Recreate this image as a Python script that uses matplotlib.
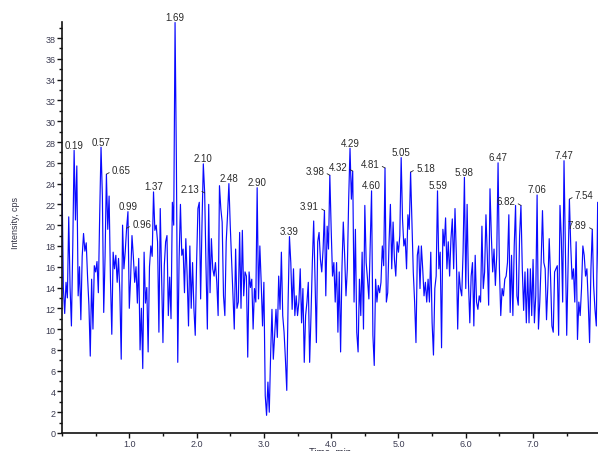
import numpy as np
import matplotlib
matplotlib.use("Agg")
import matplotlib.pyplot as plt
from matplotlib.ticker import MultipleLocator, FormatStrFormatter

# ---- data ----
sample_step_min = 0.02
intensity = [
    24.5, 14, 11.5, 14.5, 13, 20.8, 14, 10.3, 18, 27.2,
    20.5, 25.7, 13.2, 16, 10.9, 17, 19.2, 17.5, 18.3, 15,
    12.3, 7.4, 14.8, 10, 16.1, 15.5, 16.5, 13.5, 21, 27.5,
    22.8, 11.6, 17, 24.9, 19.6, 22.8, 14.8, 9.5, 17.4, 15.8,
    17.1, 14.5, 16.8, 13.5, 7.1, 20, 15.8, 17.5, 19.7, 21.3,
    12, 15, 19, 17, 14.5, 16, 12.5, 16.8, 8, 12,
    6.2, 17.4, 12.5, 14, 7.8, 16, 18, 17, 23.2, 19.5,
    20, 18.4, 9.7, 21.6, 15, 8.7, 16.1, 18.4, 19, 11.3,
    15, 11, 22.2, 20, 39.5, 26, 6.8, 16.7, 22, 17.1,
    17.7, 13.5, 18.7, 15.1, 10.3, 18, 12, 16.4, 12, 9.4,
    16.4, 21.6, 22.2, 12.9, 20, 25.9, 23.1, 16, 10, 22,
    13.5, 18.7, 15.8, 15.1, 16.4, 14.5, 11.3, 23.8, 21.6, 20.3,
    13.2, 11.3, 18.4, 21, 24, 20, 16.7, 13.5, 10, 17.7,
    12, 12.6, 19.3, 12, 19.5, 13.2, 15.5, 15.1, 7.3, 15.5,
    14, 14.8, 10, 13.9, 12.6, 23.6, 12.9, 18, 14.5, 10.3,
    14.5, 3.6, 1.7, 4.9, 2.0, 7.5, 11.9, 7.1, 9.4, 11.9,
    9.2, 15.1, 11.9, 17.4, 11.3, 9.7, 7.1, 4.1, 12.6, 18.9,
    16.4, 11.9, 15.8, 11.3, 13.2, 11.3, 12.6, 15.8, 10.6, 13.9,
    6.8, 11.3, 12.6, 14.5, 6.8, 11.3, 16.4, 20.4, 14.8, 8.7,
    18.4, 19.3, 16.7, 15.5, 17.7, 21.4, 13.2, 19.9, 17.7, 24.8,
    19.6, 15.1, 16.4, 12.6, 16.4, 9.7, 15.5, 7.8, 15.8, 20.3,
    17.1, 13.2, 15.8, 22.5, 27.4, 22.5, 25.2, 12.6, 19.6, 9.7,
    7.8, 14.8, 11.3, 17.4, 10, 21.9, 16.4, 14.8, 12.9, 18,
    23.3, 9.4, 6.5, 14.8, 12.6, 14.2, 13.5, 14.5, 18, 16.1,
    25.5, 12.6, 13.5, 18.4, 22, 15.8, 20.3, 16.7, 15.1, 18.4,
    17.4, 19, 26.5, 20.6, 18, 18.7, 15.8, 21, 19.6, 25.1,
    20.3, 15.5, 12.6, 8.7, 17.1, 18, 13.9, 18, 15.8, 13.2,
    14.5, 12.6, 14.8, 12.6, 17.4, 10.6, 7.5, 13.9, 15.1, 23.3,
    15.8, 17.4, 8.2, 19.6, 18, 20.7, 15.8, 18.4, 15.1, 18.7,
    20.6, 15.8, 21.6, 17.1, 10, 15.5, 13.9, 13.2, 17.4, 24.6,
    13.9, 22, 14.5, 10.6, 15.1, 16.4, 10.3, 17.1, 12.6, 11.9,
    13.2, 12.6, 19.9, 13.9, 15.5, 21, 17.1, 12.3, 23.5, 19,
    15.5, 17.7, 14.2, 17.1, 26, 15.8, 11.3, 13.9, 13.2, 14.8,
    15.1, 16.4, 21, 11.6, 17.1, 11.3, 18, 21.9, 13.2, 12.3,
    19, 21.9, 15.8, 11.8, 15.5, 10.6, 15.8, 10.6, 15.8, 11.3,
    16.7, 10.6, 13.2, 22.9, 10, 12.6, 16.4, 21.4, 16.4, 15.8,
    10.9, 14.2, 18.7, 15, 10.3, 9.7, 15.5, 15.8, 16.1, 9.4,
    21.9, 18.7, 12.6, 26.2, 18, 9.4, 16, 22.5, 18, 14.8,
    15.8, 12.6, 18.4, 9, 12.6, 11.3, 13.9, 18, 17.1, 15.1,
    15.8, 12.6, 8.7, 15.8, 19.6, 14.2, 11.9, 10.3, 22.2, 12,
]
time_min = np.arange(len(intensity)) * sample_step_min

peak_labels = ["0.19", "0.57", "0.65", "0.99", "0.96", "1.37", "1.69",
               "2.10", "2.13", "2.48", "2.90", "3.39", "3.91", "3.98",
               "4.29", "4.32", "4.60", "4.81", "5.05", "5.18", "5.59",
               "5.98", "6.47", "6.82", "7.06", "7.47", "7.54", "7.89"]
peak_at = [0.18, 0.58, 0.66, 0.98, 0.96, 1.36, 1.68,
           2.10, 2.12, 2.48, 2.90, 3.38, 3.90, 3.98,
           4.28, 4.32, 4.60, 4.80, 5.04, 5.18, 5.58,
           5.98, 6.48, 6.82, 7.06, 7.46, 7.54, 7.88]

y_ticks = list(range(0, 40, 2))
x_ticks = [1.0, 2.0, 3.0, 4.0, 5.0, 6.0, 7.0]

# ---- layout / style ----
left_side = {"2.13", "3.91", "3.98", "4.32", "4.81", "6.82", "7.89"}
right_side = {"0.65", "0.96", "5.18", "7.54"}

plt.rcParams['font.family'] = ['Liberation Sans', 'DejaVu Sans']
fig = plt.figure(figsize=(5.98, 4.52), dpi=100)
ax = fig.add_axes([62 / 598, 18 / 452, 536 / 598, 411 / 452])

ax.plot(time_min, intensity, color='#0a0aff', lw=0.85)

ax.set_xlim(0, 7.965)
ax.set_ylim(0, 39.55)
ax.spines['top'].set_visible(False)
ax.spines['right'].set_visible(False)
for s in ('left', 'bottom'):
    ax.spines[s].set_linewidth(1.2)
    ax.spines[s].set_color('#111111')

ax.set_yticks(y_ticks)
ax.yaxis.set_minor_locator(MultipleLocator(1))
ax.set_xticks(x_ticks)
ax.xaxis.set_major_formatter(FormatStrFormatter('%.1f'))
ax.xaxis.set_minor_locator(MultipleLocator(0.5))
ax.tick_params(axis='both', which='major', length=3.5, width=1, pad=1,
               labelsize=6.5, labelcolor='#3a3a50', color='#111111')
ax.tick_params(axis='both', which='minor', length=2.5, width=1, color='#111111')

for lab, t in zip(peak_labels, peak_at):
    i = int(round(t / sample_step_min))
    x, y = time_min[i], intensity[i]
    if lab in left_side:
        ax.annotate(lab, (x, y), xytext=(-4, 3), textcoords='offset points',
                    ha='right', va='center', fontsize=7, color='#2a2a2a',
                    arrowprops=dict(arrowstyle='-', lw=0.6, color='#222222',
                                    shrinkA=0, shrinkB=0, relpos=(1.0, 0.4)))
    elif lab in right_side:
        ax.annotate(lab, (x, y), xytext=(4, 3), textcoords='offset points',
                    ha='left', va='center', fontsize=7, color='#2a2a2a',
                    arrowprops=dict(arrowstyle='-', lw=0.6, color='#222222',
                                    shrinkA=0, shrinkB=0, relpos=(0.0, 0.4)))
    else:
        ax.annotate(lab, (x, y), xytext=(0, 0.5), textcoords='offset points',
                    ha='center', va='bottom', fontsize=7, color='#2a2a2a')

fig.text(16 / 598, 229 / 452, 'Intensity, cps', rotation=90, ha='center',
         va='center', fontsize=6.5, color='#333344')
fig.text(330 / 598, 4 / 452, 'Time, min', ha='center', va='top',
         fontsize=7, color='#333344')

fig.savefig('out.png', dpi=100)
